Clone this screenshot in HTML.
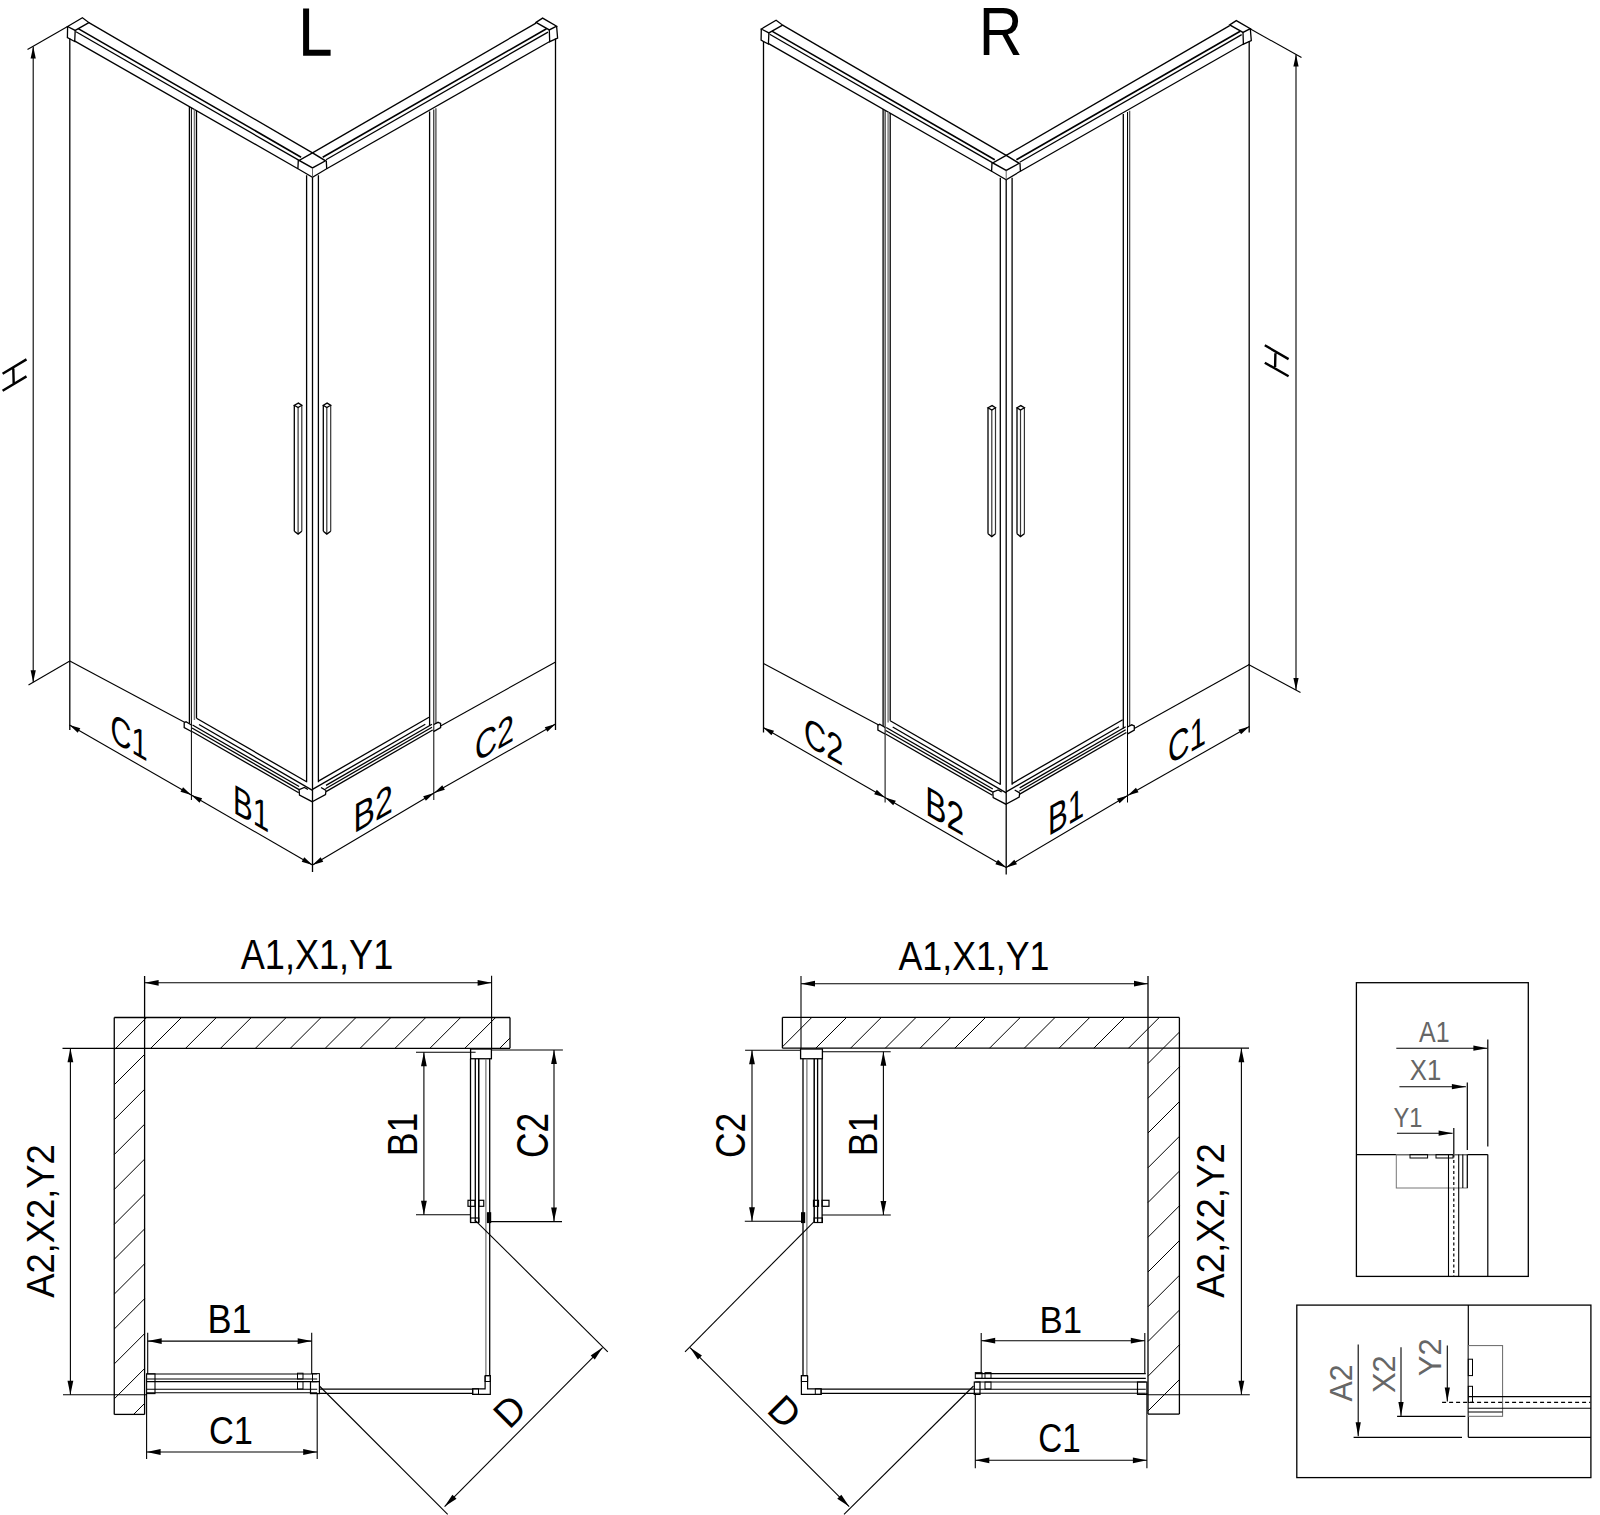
<!DOCTYPE html>
<html><head><meta charset="utf-8"><title>Shower enclosure drawing</title>
<style>html,body{margin:0;padding:0;background:#fff;} svg{display:block;} text{font-family:"Liberation Sans",sans-serif;}</style>
</head><body>
<svg width="1600" height="1515" viewBox="0 0 1600 1515" stroke-linecap="butt">
<rect x="0" y="0" width="1600" height="1515" fill="#fff"/>
<g transform="translate(0,0)">
<polygon points="67.60,26.50 82.40,17.70 88.90,22.60 75.20,30.40" fill="none" stroke="#000" stroke-width="1.3" stroke-linejoin="miter"/>
<polyline points="67.60,26.50 67.40,37.70 74.70,41.50 75.20,30.40" fill="none" stroke="#000" stroke-width="1.3" stroke-linejoin="miter"/>
<line x1="69.80" y1="38.50" x2="69.80" y2="730.00" stroke="#000" stroke-width="1.3"/>
<line x1="88.90" y1="22.60" x2="312.50" y2="152.90" stroke="#000" stroke-width="1.3"/>
<line x1="78.20" y1="28.60" x2="301.10" y2="157.20" stroke="#000" stroke-width="1.6"/>
<line x1="76.00" y1="31.70" x2="299.10" y2="160.40" stroke="#000" stroke-width="1.3"/>
<line x1="74.90" y1="41.10" x2="297.90" y2="168.70" stroke="#000" stroke-width="1.3"/>
<polygon points="312.50,152.90 299.10,160.40 312.50,167.90 325.50,160.80" fill="none" stroke="#000" stroke-width="1.4" stroke-linejoin="miter"/>
<polyline points="298.30,160.40 297.90,168.70 312.50,177.30 326.70,168.70 326.30,160.80" fill="none" stroke="#000" stroke-width="1.3" stroke-linejoin="miter"/>
<line x1="312.50" y1="167.90" x2="312.50" y2="177.30" stroke="#555" stroke-width="0.9"/>
<line x1="312.50" y1="152.90" x2="536.00" y2="23.10" stroke="#000" stroke-width="1.3"/>
<line x1="322.70" y1="157.20" x2="546.50" y2="28.70" stroke="#000" stroke-width="1.6"/>
<line x1="326.00" y1="159.80" x2="548.00" y2="32.10" stroke="#000" stroke-width="1.3"/>
<line x1="326.70" y1="168.70" x2="549.70" y2="41.50" stroke="#000" stroke-width="1.3"/>
<polygon points="536.00,22.40 542.60,18.10 556.60,26.10 549.30,29.90" fill="none" stroke="#000" stroke-width="1.3" stroke-linejoin="miter"/>
<polyline points="549.30,29.90 549.70,41.70 557.60,38.10 556.60,26.10" fill="none" stroke="#000" stroke-width="1.3" stroke-linejoin="miter"/>
<line x1="555.50" y1="38.50" x2="555.50" y2="730.00" stroke="#000" stroke-width="1.3"/>
<line x1="306.60" y1="175.20" x2="306.60" y2="782.20" stroke="#000" stroke-width="1.3"/>
<line x1="312.50" y1="177.30" x2="312.50" y2="872.00" stroke="#000" stroke-width="1.3"/>
<line x1="318.40" y1="175.20" x2="318.40" y2="782.20" stroke="#000" stroke-width="1.3"/>
<line x1="189.40" y1="106.60" x2="189.40" y2="723.50" stroke="#000" stroke-width="1.3"/>
<line x1="191.40" y1="107.80" x2="191.40" y2="800.00" stroke="#000" stroke-width="1.0"/>
<line x1="194.40" y1="109.50" x2="194.40" y2="720.00" stroke="#777" stroke-width="1.4"/>
<line x1="196.50" y1="110.60" x2="196.50" y2="718.30" stroke="#000" stroke-width="1.3"/>
<line x1="429.60" y1="111.50" x2="429.60" y2="725.90" stroke="#000" stroke-width="1.3"/>
<line x1="433.80" y1="109.50" x2="433.80" y2="800.00" stroke="#000" stroke-width="1.0"/>
<line x1="435.90" y1="108.30" x2="435.90" y2="723.30" stroke="#555" stroke-width="1.4"/>
<line x1="294.30" y1="405.30" x2="294.30" y2="531.30" stroke="#000" stroke-width="1.3"/>
<line x1="298.10" y1="407.50" x2="298.10" y2="534.10" stroke="#333" stroke-width="1.2"/>
<line x1="301.80" y1="405.30" x2="301.80" y2="531.30" stroke="#333" stroke-width="1.2"/>
<polygon points="294.30,405.30 298.40,403.10 301.80,405.30 298.10,407.50" fill="none" stroke="#000" stroke-width="1.3" stroke-linejoin="miter"/>
<polyline points="294.30,531.30 298.10,534.10 301.80,531.30" fill="none" stroke="#000" stroke-width="1.3" stroke-linejoin="miter"/>
<line x1="323.30" y1="405.30" x2="323.30" y2="531.30" stroke="#000" stroke-width="1.3"/>
<line x1="326.80" y1="407.50" x2="326.80" y2="534.10" stroke="#333" stroke-width="1.2"/>
<line x1="330.70" y1="405.30" x2="330.70" y2="531.30" stroke="#333" stroke-width="1.2"/>
<polygon points="323.30,405.30 327.10,403.10 330.70,405.30 326.80,407.50" fill="none" stroke="#000" stroke-width="1.3" stroke-linejoin="miter"/>
<polyline points="323.30,531.30 326.80,534.10 330.70,531.30" fill="none" stroke="#000" stroke-width="1.3" stroke-linejoin="miter"/>
<line x1="69.80" y1="661.00" x2="185.00" y2="722.50" stroke="#000" stroke-width="1.1"/>
<line x1="555.60" y1="662.00" x2="440.60" y2="725.90" stroke="#000" stroke-width="1.1"/>
<line x1="196.50" y1="718.30" x2="306.60" y2="781.80" stroke="#000" stroke-width="1.3"/>
<line x1="199.00" y1="724.50" x2="312.50" y2="790.40" stroke="#000" stroke-width="1.3"/>
<line x1="192.50" y1="725.00" x2="299.10" y2="786.50" stroke="#000" stroke-width="1.3"/>
<line x1="192.00" y1="728.00" x2="299.10" y2="789.60" stroke="#000" stroke-width="1.3"/>
<line x1="192.00" y1="731.50" x2="298.70" y2="792.80" stroke="#000" stroke-width="1.3"/>
<polyline points="184.20,722.50 184.20,727.50 191.40,731.50" fill="none" stroke="#000" stroke-width="1.3" stroke-linejoin="miter"/>
<polyline points="184.20,722.50 186.00,721.80 191.40,725.00" fill="none" stroke="#000" stroke-width="1.3" stroke-linejoin="miter"/>
<polyline points="299.10,789.60 299.50,795.20 312.10,801.70 325.50,794.60 326.00,790.40" fill="none" stroke="#000" stroke-width="1.3" stroke-linejoin="miter"/>
<polyline points="299.10,789.60 304.40,787.50 308.00,789.50" fill="none" stroke="#000" stroke-width="1.3" stroke-linejoin="miter"/>
<polyline points="321.00,787.50 326.00,790.40" fill="none" stroke="#000" stroke-width="1.3" stroke-linejoin="miter"/>
<line x1="318.40" y1="781.10" x2="429.00" y2="717.30" stroke="#000" stroke-width="1.3"/>
<line x1="312.50" y1="789.40" x2="425.30" y2="724.30" stroke="#000" stroke-width="1.3"/>
<line x1="326.00" y1="785.40" x2="432.00" y2="724.20" stroke="#000" stroke-width="1.3"/>
<line x1="325.50" y1="788.70" x2="432.00" y2="727.20" stroke="#000" stroke-width="1.3"/>
<line x1="326.00" y1="791.60" x2="432.70" y2="730.00" stroke="#000" stroke-width="1.3"/>
<polyline points="433.50,731.60 440.60,727.50 440.60,723.50 438.00,722.30 433.80,724.50" fill="none" stroke="#000" stroke-width="1.3" stroke-linejoin="miter"/>
</g>
<line x1="67.60" y1="26.50" x2="27.50" y2="49.50" stroke="#000" stroke-width="1.1"/>
<line x1="69.80" y1="661.00" x2="28.50" y2="685.00" stroke="#000" stroke-width="1.1"/>
<line x1="33.20" y1="46.40" x2="33.20" y2="682.30" stroke="#000" stroke-width="1.1"/>
<polygon points="33.20,682.30 30.60,670.30 35.80,670.30" fill="#000"/>
<polygon points="33.20,46.40 35.80,58.40 30.60,58.40" fill="#000"/>
<g stroke="#000" stroke-width="2.4" stroke-linecap="butt" fill="none">
<path d="M2.6,373.7 L26.5,359.4 M2.6,390.7 L26.5,376.4 M13.3,368.6 L13.7,383.5"/>
</g>
<line x1="69.50" y1="725.00" x2="191.30" y2="795.00" stroke="#000" stroke-width="1.1"/>
<polygon points="191.30,795.00 180.47,791.77 183.06,787.26" fill="#000"/>
<polygon points="69.50,725.00 80.33,728.23 77.74,732.74" fill="#000"/>
<line x1="191.30" y1="795.00" x2="312.50" y2="865.00" stroke="#000" stroke-width="1.1"/>
<polygon points="312.50,865.00 301.67,861.75 304.27,857.25" fill="#000"/>
<polygon points="191.30,795.00 202.13,798.25 199.53,802.75" fill="#000"/>
<line x1="312.50" y1="865.00" x2="434.00" y2="793.00" stroke="#000" stroke-width="1.1"/>
<polygon points="434.00,793.00 425.86,800.84 423.21,796.37" fill="#000"/>
<polygon points="312.50,865.00 320.64,857.16 323.29,861.63" fill="#000"/>
<line x1="434.00" y1="793.00" x2="555.60" y2="724.00" stroke="#000" stroke-width="1.1"/>
<polygon points="555.60,724.00 547.32,731.69 544.75,727.17" fill="#000"/>
<polygon points="434.00,793.00 442.28,785.31 444.85,789.83" fill="#000"/>
<g transform="translate(693.7,2.5)">
<polygon points="67.60,26.50 82.40,17.70 88.90,22.60 75.20,30.40" fill="none" stroke="#000" stroke-width="1.3" stroke-linejoin="miter"/>
<polyline points="67.60,26.50 67.40,37.70 74.70,41.50 75.20,30.40" fill="none" stroke="#000" stroke-width="1.3" stroke-linejoin="miter"/>
<line x1="69.80" y1="38.50" x2="69.80" y2="730.00" stroke="#000" stroke-width="1.3"/>
<line x1="88.90" y1="22.60" x2="312.50" y2="152.90" stroke="#000" stroke-width="1.3"/>
<line x1="78.20" y1="28.60" x2="301.10" y2="157.20" stroke="#000" stroke-width="1.6"/>
<line x1="76.00" y1="31.70" x2="299.10" y2="160.40" stroke="#000" stroke-width="1.3"/>
<line x1="74.90" y1="41.10" x2="297.90" y2="168.70" stroke="#000" stroke-width="1.3"/>
<polygon points="312.50,152.90 299.10,160.40 312.50,167.90 325.50,160.80" fill="none" stroke="#000" stroke-width="1.4" stroke-linejoin="miter"/>
<polyline points="298.30,160.40 297.90,168.70 312.50,177.30 326.70,168.70 326.30,160.80" fill="none" stroke="#000" stroke-width="1.3" stroke-linejoin="miter"/>
<line x1="312.50" y1="167.90" x2="312.50" y2="177.30" stroke="#555" stroke-width="0.9"/>
<line x1="312.50" y1="152.90" x2="536.00" y2="23.10" stroke="#000" stroke-width="1.3"/>
<line x1="322.70" y1="157.20" x2="546.50" y2="28.70" stroke="#000" stroke-width="1.6"/>
<line x1="326.00" y1="159.80" x2="548.00" y2="32.10" stroke="#000" stroke-width="1.3"/>
<line x1="326.70" y1="168.70" x2="549.70" y2="41.50" stroke="#000" stroke-width="1.3"/>
<polygon points="536.00,22.40 542.60,18.10 556.60,26.10 549.30,29.90" fill="none" stroke="#000" stroke-width="1.3" stroke-linejoin="miter"/>
<polyline points="549.30,29.90 549.70,41.70 557.60,38.10 556.60,26.10" fill="none" stroke="#000" stroke-width="1.3" stroke-linejoin="miter"/>
<line x1="555.50" y1="38.50" x2="555.50" y2="730.00" stroke="#000" stroke-width="1.3"/>
<line x1="306.60" y1="175.20" x2="306.60" y2="782.20" stroke="#000" stroke-width="1.3"/>
<line x1="312.50" y1="177.30" x2="312.50" y2="872.00" stroke="#000" stroke-width="1.3"/>
<line x1="318.40" y1="175.20" x2="318.40" y2="782.20" stroke="#000" stroke-width="1.3"/>
<line x1="189.40" y1="106.60" x2="189.40" y2="723.50" stroke="#000" stroke-width="1.3"/>
<line x1="191.40" y1="107.80" x2="191.40" y2="800.00" stroke="#000" stroke-width="1.0"/>
<line x1="194.40" y1="109.50" x2="194.40" y2="720.00" stroke="#777" stroke-width="1.4"/>
<line x1="196.50" y1="110.60" x2="196.50" y2="718.30" stroke="#000" stroke-width="1.3"/>
<line x1="429.60" y1="111.50" x2="429.60" y2="725.90" stroke="#000" stroke-width="1.3"/>
<line x1="433.80" y1="109.50" x2="433.80" y2="800.00" stroke="#000" stroke-width="1.0"/>
<line x1="435.90" y1="108.30" x2="435.90" y2="723.30" stroke="#555" stroke-width="1.4"/>
<line x1="294.30" y1="405.30" x2="294.30" y2="531.30" stroke="#000" stroke-width="1.3"/>
<line x1="298.10" y1="407.50" x2="298.10" y2="534.10" stroke="#333" stroke-width="1.2"/>
<line x1="301.80" y1="405.30" x2="301.80" y2="531.30" stroke="#333" stroke-width="1.2"/>
<polygon points="294.30,405.30 298.40,403.10 301.80,405.30 298.10,407.50" fill="none" stroke="#000" stroke-width="1.3" stroke-linejoin="miter"/>
<polyline points="294.30,531.30 298.10,534.10 301.80,531.30" fill="none" stroke="#000" stroke-width="1.3" stroke-linejoin="miter"/>
<line x1="323.30" y1="405.30" x2="323.30" y2="531.30" stroke="#000" stroke-width="1.3"/>
<line x1="326.80" y1="407.50" x2="326.80" y2="534.10" stroke="#333" stroke-width="1.2"/>
<line x1="330.70" y1="405.30" x2="330.70" y2="531.30" stroke="#333" stroke-width="1.2"/>
<polygon points="323.30,405.30 327.10,403.10 330.70,405.30 326.80,407.50" fill="none" stroke="#000" stroke-width="1.3" stroke-linejoin="miter"/>
<polyline points="323.30,531.30 326.80,534.10 330.70,531.30" fill="none" stroke="#000" stroke-width="1.3" stroke-linejoin="miter"/>
<line x1="69.80" y1="661.00" x2="185.00" y2="722.50" stroke="#000" stroke-width="1.1"/>
<line x1="555.60" y1="662.00" x2="440.60" y2="725.90" stroke="#000" stroke-width="1.1"/>
<line x1="196.50" y1="718.30" x2="306.60" y2="781.80" stroke="#000" stroke-width="1.3"/>
<line x1="199.00" y1="724.50" x2="312.50" y2="790.40" stroke="#000" stroke-width="1.3"/>
<line x1="192.50" y1="725.00" x2="299.10" y2="786.50" stroke="#000" stroke-width="1.3"/>
<line x1="192.00" y1="728.00" x2="299.10" y2="789.60" stroke="#000" stroke-width="1.3"/>
<line x1="192.00" y1="731.50" x2="298.70" y2="792.80" stroke="#000" stroke-width="1.3"/>
<polyline points="184.20,722.50 184.20,727.50 191.40,731.50" fill="none" stroke="#000" stroke-width="1.3" stroke-linejoin="miter"/>
<polyline points="184.20,722.50 186.00,721.80 191.40,725.00" fill="none" stroke="#000" stroke-width="1.3" stroke-linejoin="miter"/>
<polyline points="299.10,789.60 299.50,795.20 312.10,801.70 325.50,794.60 326.00,790.40" fill="none" stroke="#000" stroke-width="1.3" stroke-linejoin="miter"/>
<polyline points="299.10,789.60 304.40,787.50 308.00,789.50" fill="none" stroke="#000" stroke-width="1.3" stroke-linejoin="miter"/>
<polyline points="321.00,787.50 326.00,790.40" fill="none" stroke="#000" stroke-width="1.3" stroke-linejoin="miter"/>
<line x1="318.40" y1="781.10" x2="429.00" y2="717.30" stroke="#000" stroke-width="1.3"/>
<line x1="312.50" y1="789.40" x2="425.30" y2="724.30" stroke="#000" stroke-width="1.3"/>
<line x1="326.00" y1="785.40" x2="432.00" y2="724.20" stroke="#000" stroke-width="1.3"/>
<line x1="325.50" y1="788.70" x2="432.00" y2="727.20" stroke="#000" stroke-width="1.3"/>
<line x1="326.00" y1="791.60" x2="432.70" y2="730.00" stroke="#000" stroke-width="1.3"/>
<polyline points="433.50,731.60 440.60,727.50 440.60,723.50 438.00,722.30 433.80,724.50" fill="none" stroke="#000" stroke-width="1.3" stroke-linejoin="miter"/>
</g>
<line x1="1249.60" y1="28.60" x2="1301.50" y2="57.50" stroke="#000" stroke-width="1.1"/>
<line x1="1248.50" y1="664.50" x2="1300.50" y2="692.50" stroke="#000" stroke-width="1.1"/>
<line x1="1296.00" y1="54.40" x2="1296.00" y2="690.10" stroke="#000" stroke-width="1.1"/>
<polygon points="1296.00,690.10 1293.40,678.10 1298.60,678.10" fill="#000"/>
<polygon points="1296.00,54.40 1298.60,66.40 1293.40,66.40" fill="#000"/>
<g stroke="#000" stroke-width="2.4" stroke-linecap="butt" fill="none">
<path d="M1264.8,345.3 L1288.6,359.1 M1264.8,362.8 L1288.6,376.2 M1275.4,353.2 L1275.1,367"/>
</g>
<line x1="763.20" y1="727.50" x2="885.00" y2="797.50" stroke="#000" stroke-width="1.1"/>
<polygon points="885.00,797.50 874.17,794.27 876.76,789.76" fill="#000"/>
<polygon points="763.20,727.50 774.03,730.73 771.44,735.24" fill="#000"/>
<line x1="885.00" y1="797.50" x2="1006.20" y2="867.50" stroke="#000" stroke-width="1.1"/>
<polygon points="1006.20,867.50 995.37,864.25 997.97,859.75" fill="#000"/>
<polygon points="885.00,797.50 895.83,800.75 893.23,805.25" fill="#000"/>
<line x1="1006.20" y1="867.50" x2="1127.70" y2="795.50" stroke="#000" stroke-width="1.1"/>
<polygon points="1127.70,795.50 1119.56,803.34 1116.91,798.87" fill="#000"/>
<polygon points="1006.20,867.50 1014.34,859.66 1016.99,864.13" fill="#000"/>
<line x1="1127.70" y1="795.50" x2="1249.30" y2="726.50" stroke="#000" stroke-width="1.1"/>
<polygon points="1249.30,726.50 1241.02,734.19 1238.45,729.67" fill="#000"/>
<polygon points="1127.70,795.50 1135.98,787.81 1138.55,792.33" fill="#000"/>
<line x1="114.25" y1="1017.50" x2="510.00" y2="1017.50" stroke="#000" stroke-width="1.3"/>
<line x1="114.25" y1="1017.50" x2="114.25" y2="1414.40" stroke="#000" stroke-width="1.3"/>
<line x1="114.25" y1="1414.40" x2="144.60" y2="1414.40" stroke="#000" stroke-width="1.3"/>
<line x1="510.00" y1="1017.50" x2="510.00" y2="1048.30" stroke="#000" stroke-width="1.3"/>
<line x1="62.50" y1="1048.30" x2="510.00" y2="1048.30" stroke="#000" stroke-width="1.3"/>
<line x1="144.60" y1="976.00" x2="144.60" y2="1414.40" stroke="#000" stroke-width="1.3"/>
<line x1="115.80" y1="1048.30" x2="146.60" y2="1017.50" stroke="#000" stroke-width="1.0"/>
<line x1="114.25" y1="1049.85" x2="115.80" y2="1048.30" stroke="#000" stroke-width="1.0"/>
<line x1="150.70" y1="1048.30" x2="181.50" y2="1017.50" stroke="#000" stroke-width="1.0"/>
<line x1="114.25" y1="1084.75" x2="144.60" y2="1054.40" stroke="#000" stroke-width="1.0"/>
<line x1="185.60" y1="1048.30" x2="216.40" y2="1017.50" stroke="#000" stroke-width="1.0"/>
<line x1="114.25" y1="1119.65" x2="144.60" y2="1089.30" stroke="#000" stroke-width="1.0"/>
<line x1="220.50" y1="1048.30" x2="251.30" y2="1017.50" stroke="#000" stroke-width="1.0"/>
<line x1="114.25" y1="1154.55" x2="144.60" y2="1124.20" stroke="#000" stroke-width="1.0"/>
<line x1="255.40" y1="1048.30" x2="286.20" y2="1017.50" stroke="#000" stroke-width="1.0"/>
<line x1="114.25" y1="1189.45" x2="144.60" y2="1159.10" stroke="#000" stroke-width="1.0"/>
<line x1="290.30" y1="1048.30" x2="321.10" y2="1017.50" stroke="#000" stroke-width="1.0"/>
<line x1="114.25" y1="1224.35" x2="144.60" y2="1194.00" stroke="#000" stroke-width="1.0"/>
<line x1="325.20" y1="1048.30" x2="356.00" y2="1017.50" stroke="#000" stroke-width="1.0"/>
<line x1="114.25" y1="1259.25" x2="144.60" y2="1228.90" stroke="#000" stroke-width="1.0"/>
<line x1="360.10" y1="1048.30" x2="390.90" y2="1017.50" stroke="#000" stroke-width="1.0"/>
<line x1="114.25" y1="1294.15" x2="144.60" y2="1263.80" stroke="#000" stroke-width="1.0"/>
<line x1="395.00" y1="1048.30" x2="425.80" y2="1017.50" stroke="#000" stroke-width="1.0"/>
<line x1="114.25" y1="1329.05" x2="144.60" y2="1298.70" stroke="#000" stroke-width="1.0"/>
<line x1="429.90" y1="1048.30" x2="460.70" y2="1017.50" stroke="#000" stroke-width="1.0"/>
<line x1="114.25" y1="1363.95" x2="144.60" y2="1333.60" stroke="#000" stroke-width="1.0"/>
<line x1="464.80" y1="1048.30" x2="495.60" y2="1017.50" stroke="#000" stroke-width="1.0"/>
<line x1="114.25" y1="1398.85" x2="144.60" y2="1368.50" stroke="#000" stroke-width="1.0"/>
<line x1="499.70" y1="1048.30" x2="510.00" y2="1038.00" stroke="#000" stroke-width="1.0"/>
<line x1="133.60" y1="1414.40" x2="144.60" y2="1403.40" stroke="#000" stroke-width="1.0"/>
<line x1="491.60" y1="975.80" x2="491.60" y2="1049.00" stroke="#000" stroke-width="1.1"/>
<line x1="144.60" y1="982.80" x2="491.60" y2="982.80" stroke="#000" stroke-width="1.1"/>
<polygon points="491.60,982.80 477.60,985.70 477.60,979.90" fill="#000"/>
<polygon points="144.60,982.80 158.60,979.90 158.60,985.70" fill="#000"/>
<line x1="70.40" y1="1048.30" x2="70.40" y2="1394.70" stroke="#000" stroke-width="1.1"/>
<polygon points="70.40,1394.70 67.50,1380.70 73.30,1380.70" fill="#000"/>
<polygon points="70.40,1048.30 73.30,1062.30 67.50,1062.30" fill="#000"/>
<line x1="63.00" y1="1394.70" x2="147.00" y2="1394.70" stroke="#000" stroke-width="1.1"/>
<rect x="470.60" y="1049.00" width="20.80" height="9.75" fill="none" stroke="#000" stroke-width="1.3"/>
<line x1="470.50" y1="1058.75" x2="470.50" y2="1222.50" stroke="#000" stroke-width="1.3"/>
<line x1="475.30" y1="1058.75" x2="475.30" y2="1222.50" stroke="#000" stroke-width="1.3"/>
<line x1="478.75" y1="1058.75" x2="478.75" y2="1222.50" stroke="#000" stroke-width="1.5"/>
<line x1="485.90" y1="1058.75" x2="485.90" y2="1376.00" stroke="#666" stroke-width="1.1"/>
<line x1="489.70" y1="1058.75" x2="489.70" y2="1376.00" stroke="#000" stroke-width="1.3"/>
<rect x="468.00" y="1200.30" width="7.00" height="6.00" fill="none" stroke="#000" stroke-width="1.2"/>
<rect x="478.75" y="1200.30" width="5.00" height="6.00" fill="none" stroke="#000" stroke-width="1.2"/>
<rect x="470.60" y="1218.00" width="8.15" height="4.50" fill="none" stroke="#000" stroke-width="1.2"/>
<rect x="487.50" y="1212.80" width="3.10" height="9.70" fill="#000" stroke="#000" stroke-width="1.2"/>
<line x1="416.00" y1="1052.30" x2="475.60" y2="1052.30" stroke="#000" stroke-width="1.1"/>
<line x1="416.00" y1="1214.80" x2="470.30" y2="1214.80" stroke="#000" stroke-width="1.1"/>
<line x1="423.90" y1="1052.30" x2="423.90" y2="1214.80" stroke="#000" stroke-width="1.1"/>
<polygon points="423.90,1214.80 421.00,1200.80 426.80,1200.80" fill="#000"/>
<polygon points="423.90,1052.30 426.80,1066.30 421.00,1066.30" fill="#000"/>
<line x1="491.60" y1="1050.00" x2="562.90" y2="1050.00" stroke="#000" stroke-width="1.1"/>
<line x1="490.60" y1="1221.60" x2="562.00" y2="1221.60" stroke="#000" stroke-width="1.1"/>
<line x1="554.00" y1="1050.00" x2="554.00" y2="1221.60" stroke="#000" stroke-width="1.1"/>
<polygon points="554.00,1221.60 551.10,1207.60 556.90,1207.60" fill="#000"/>
<polygon points="554.00,1050.00 556.90,1064.00 551.10,1064.00" fill="#000"/>
<polyline points="485.10,1375.70 490.30,1375.70 490.30,1394.40 472.70,1394.40 472.70,1388.80 485.10,1388.80 485.10,1375.70" fill="none" stroke="#000" stroke-width="1.2" stroke-linejoin="miter"/>
<rect x="485.10" y="1375.70" width="5.20" height="5.80" fill="none" stroke="#000" stroke-width="1.0"/>
<rect x="472.70" y="1388.80" width="5.80" height="5.60" fill="none" stroke="#000" stroke-width="1.0"/>
<line x1="319.40" y1="1389.20" x2="472.70" y2="1389.20" stroke="#000" stroke-width="1.3"/>
<line x1="319.40" y1="1393.30" x2="472.70" y2="1393.30" stroke="#000" stroke-width="1.3"/>
<line x1="474.70" y1="1219.80" x2="607.80" y2="1351.80" stroke="#000" stroke-width="1.1"/>
<line x1="319.40" y1="1386.00" x2="447.70" y2="1514.30" stroke="#000" stroke-width="1.1"/>
<line x1="444.60" y1="1506.60" x2="602.60" y2="1347.60" stroke="#000" stroke-width="1.1"/>
<polygon points="602.60,1347.60 594.79,1359.57 590.67,1355.49" fill="#000"/>
<polygon points="444.60,1506.60 452.41,1494.63 456.53,1498.71" fill="#000"/>
<line x1="146.60" y1="1374.00" x2="317.20" y2="1374.00" stroke="#000" stroke-width="1.1"/>
<line x1="146.60" y1="1379.00" x2="317.20" y2="1379.00" stroke="#000" stroke-width="1.1"/>
<line x1="146.60" y1="1381.60" x2="317.20" y2="1381.60" stroke="#000" stroke-width="1.1"/>
<line x1="146.60" y1="1389.20" x2="317.20" y2="1389.20" stroke="#000" stroke-width="1.1"/>
<line x1="146.60" y1="1392.80" x2="317.20" y2="1392.80" stroke="#000" stroke-width="1.1"/>
<rect x="146.60" y="1373.80" width="8.40" height="19.80" fill="none" stroke="#000" stroke-width="1.1"/>
<rect x="297.50" y="1373.20" width="5.50" height="5.80" fill="none" stroke="#000" stroke-width="1.0"/>
<rect x="297.50" y="1381.60" width="5.50" height="7.40" fill="none" stroke="#000" stroke-width="1.0"/>
<rect x="310.50" y="1381.60" width="8.90" height="12.00" fill="none" stroke="#000" stroke-width="1.2"/>
<rect x="312.50" y="1373.60" width="6.90" height="8.00" fill="none" stroke="#000" stroke-width="1.0"/>
<line x1="311.70" y1="1332.80" x2="311.70" y2="1374.00" stroke="#000" stroke-width="1.1"/>
<line x1="147.70" y1="1332.80" x2="147.70" y2="1374.00" stroke="#000" stroke-width="1.1"/>
<line x1="147.70" y1="1341.10" x2="311.70" y2="1341.10" stroke="#000" stroke-width="1.1"/>
<polygon points="311.70,1341.10 297.70,1344.00 297.70,1338.20" fill="#000"/>
<polygon points="147.70,1341.10 161.70,1338.20 161.70,1344.00" fill="#000"/>
<line x1="317.20" y1="1393.00" x2="317.20" y2="1459.00" stroke="#000" stroke-width="1.1"/>
<line x1="146.60" y1="1393.00" x2="146.60" y2="1459.00" stroke="#000" stroke-width="1.1"/>
<line x1="146.60" y1="1452.00" x2="317.20" y2="1452.00" stroke="#000" stroke-width="1.1"/>
<polygon points="317.20,1452.00 303.20,1454.90 303.20,1449.10" fill="#000"/>
<polygon points="146.60,1452.00 160.60,1449.10 160.60,1454.90" fill="#000"/>
<line x1="782.40" y1="1017.40" x2="1179.40" y2="1017.40" stroke="#000" stroke-width="1.3"/>
<line x1="1179.40" y1="1017.40" x2="1179.40" y2="1414.10" stroke="#000" stroke-width="1.3"/>
<line x1="1148.00" y1="1414.10" x2="1179.40" y2="1414.10" stroke="#000" stroke-width="1.3"/>
<line x1="782.40" y1="1017.40" x2="782.40" y2="1048.20" stroke="#000" stroke-width="1.3"/>
<line x1="782.40" y1="1048.20" x2="1249.00" y2="1048.20" stroke="#000" stroke-width="1.3"/>
<line x1="1148.00" y1="976.00" x2="1148.00" y2="1414.10" stroke="#000" stroke-width="1.3"/>
<line x1="782.40" y1="1046.85" x2="811.85" y2="1017.40" stroke="#000" stroke-width="1.0"/>
<line x1="815.80" y1="1048.20" x2="846.60" y2="1017.40" stroke="#000" stroke-width="1.0"/>
<line x1="850.55" y1="1048.20" x2="881.35" y2="1017.40" stroke="#000" stroke-width="1.0"/>
<line x1="885.30" y1="1048.20" x2="916.10" y2="1017.40" stroke="#000" stroke-width="1.0"/>
<line x1="920.05" y1="1048.20" x2="950.85" y2="1017.40" stroke="#000" stroke-width="1.0"/>
<line x1="954.80" y1="1048.20" x2="985.60" y2="1017.40" stroke="#000" stroke-width="1.0"/>
<line x1="989.55" y1="1048.20" x2="1020.35" y2="1017.40" stroke="#000" stroke-width="1.0"/>
<line x1="1024.30" y1="1048.20" x2="1055.10" y2="1017.40" stroke="#000" stroke-width="1.0"/>
<line x1="1059.05" y1="1048.20" x2="1089.85" y2="1017.40" stroke="#000" stroke-width="1.0"/>
<line x1="1093.80" y1="1048.20" x2="1124.60" y2="1017.40" stroke="#000" stroke-width="1.0"/>
<line x1="1128.55" y1="1048.20" x2="1159.35" y2="1017.40" stroke="#000" stroke-width="1.0"/>
<line x1="1163.30" y1="1048.20" x2="1179.40" y2="1032.10" stroke="#000" stroke-width="1.0"/>
<line x1="1148.00" y1="1063.50" x2="1163.30" y2="1048.20" stroke="#000" stroke-width="1.0"/>
<line x1="1148.00" y1="1098.25" x2="1179.40" y2="1066.85" stroke="#000" stroke-width="1.0"/>
<line x1="1148.00" y1="1133.00" x2="1179.40" y2="1101.60" stroke="#000" stroke-width="1.0"/>
<line x1="1148.00" y1="1167.75" x2="1179.40" y2="1136.35" stroke="#000" stroke-width="1.0"/>
<line x1="1148.00" y1="1202.50" x2="1179.40" y2="1171.10" stroke="#000" stroke-width="1.0"/>
<line x1="1148.00" y1="1237.25" x2="1179.40" y2="1205.85" stroke="#000" stroke-width="1.0"/>
<line x1="1148.00" y1="1272.00" x2="1179.40" y2="1240.60" stroke="#000" stroke-width="1.0"/>
<line x1="1148.00" y1="1306.75" x2="1179.40" y2="1275.35" stroke="#000" stroke-width="1.0"/>
<line x1="1148.00" y1="1341.50" x2="1179.40" y2="1310.10" stroke="#000" stroke-width="1.0"/>
<line x1="1148.00" y1="1376.25" x2="1179.40" y2="1344.85" stroke="#000" stroke-width="1.0"/>
<line x1="1148.00" y1="1411.00" x2="1179.40" y2="1379.60" stroke="#000" stroke-width="1.0"/>
<line x1="801.00" y1="976.00" x2="801.00" y2="1049.00" stroke="#000" stroke-width="1.1"/>
<line x1="801.00" y1="983.70" x2="1148.00" y2="983.70" stroke="#000" stroke-width="1.1"/>
<polygon points="1148.00,983.70 1134.00,986.60 1134.00,980.80" fill="#000"/>
<polygon points="801.00,983.70 815.00,980.80 815.00,986.60" fill="#000"/>
<line x1="1241.40" y1="1048.20" x2="1241.40" y2="1394.80" stroke="#000" stroke-width="1.1"/>
<polygon points="1241.40,1394.80 1238.50,1380.80 1244.30,1380.80" fill="#000"/>
<polygon points="1241.40,1048.20 1244.30,1062.20 1238.50,1062.20" fill="#000"/>
<line x1="1147.50" y1="1394.80" x2="1249.80" y2="1394.80" stroke="#000" stroke-width="1.1"/>
<rect x="800.60" y="1049.00" width="21.80" height="9.75" fill="none" stroke="#000" stroke-width="1.3"/>
<line x1="803.00" y1="1058.75" x2="803.00" y2="1376.00" stroke="#000" stroke-width="1.3"/>
<line x1="806.90" y1="1058.75" x2="806.90" y2="1376.00" stroke="#666" stroke-width="1.1"/>
<line x1="814.20" y1="1058.75" x2="814.20" y2="1222.50" stroke="#000" stroke-width="1.5"/>
<line x1="817.60" y1="1058.75" x2="817.60" y2="1222.50" stroke="#000" stroke-width="1.3"/>
<line x1="822.10" y1="1058.75" x2="822.10" y2="1222.50" stroke="#000" stroke-width="1.3"/>
<rect x="813.50" y="1200.30" width="5.00" height="6.00" fill="none" stroke="#000" stroke-width="1.2"/>
<rect x="822.10" y="1200.30" width="6.90" height="6.00" fill="none" stroke="#000" stroke-width="1.2"/>
<rect x="814.20" y="1218.00" width="8.20" height="4.50" fill="none" stroke="#000" stroke-width="1.2"/>
<rect x="801.60" y="1212.80" width="3.00" height="9.70" fill="#000" stroke="#000" stroke-width="1.2"/>
<line x1="745.10" y1="1050.30" x2="801.00" y2="1050.30" stroke="#000" stroke-width="1.1"/>
<line x1="744.80" y1="1221.20" x2="803.50" y2="1221.20" stroke="#000" stroke-width="1.1"/>
<line x1="752.00" y1="1050.30" x2="752.00" y2="1221.20" stroke="#000" stroke-width="1.1"/>
<polygon points="752.00,1221.20 749.10,1207.20 754.90,1207.20" fill="#000"/>
<polygon points="752.00,1050.30 754.90,1064.30 749.10,1064.30" fill="#000"/>
<line x1="822.40" y1="1051.70" x2="890.70" y2="1051.70" stroke="#000" stroke-width="1.1"/>
<line x1="822.00" y1="1215.00" x2="890.80" y2="1215.00" stroke="#000" stroke-width="1.1"/>
<line x1="883.40" y1="1051.70" x2="883.40" y2="1215.00" stroke="#000" stroke-width="1.1"/>
<polygon points="883.40,1215.00 880.50,1201.00 886.30,1201.00" fill="#000"/>
<polygon points="883.40,1051.70 886.30,1065.70 880.50,1065.70" fill="#000"/>
<polyline points="807.60,1375.70 801.40,1375.70 801.40,1394.40 821.10,1394.40 821.10,1388.80 807.60,1388.80 807.60,1375.70" fill="none" stroke="#000" stroke-width="1.2" stroke-linejoin="miter"/>
<rect x="801.40" y="1375.70" width="6.20" height="5.80" fill="none" stroke="#000" stroke-width="1.0"/>
<rect x="815.30" y="1388.80" width="5.80" height="5.60" fill="none" stroke="#000" stroke-width="1.0"/>
<line x1="821.10" y1="1389.20" x2="975.30" y2="1389.20" stroke="#000" stroke-width="1.3"/>
<line x1="821.10" y1="1393.30" x2="975.30" y2="1393.30" stroke="#000" stroke-width="1.3"/>
<line x1="813.80" y1="1221.80" x2="685.00" y2="1351.80" stroke="#000" stroke-width="1.1"/>
<line x1="973.50" y1="1386.00" x2="844.00" y2="1514.30" stroke="#000" stroke-width="1.1"/>
<line x1="690.00" y1="1347.60" x2="849.20" y2="1506.60" stroke="#000" stroke-width="1.1"/>
<polygon points="849.20,1506.60 837.24,1498.76 841.34,1494.65" fill="#000"/>
<polygon points="690.00,1347.60 701.96,1355.44 697.86,1359.55" fill="#000"/>
<line x1="975.30" y1="1373.60" x2="1145.80" y2="1373.60" stroke="#000" stroke-width="1.1"/>
<line x1="975.30" y1="1378.40" x2="1145.80" y2="1378.40" stroke="#000" stroke-width="1.1"/>
<line x1="975.30" y1="1382.00" x2="1145.80" y2="1382.00" stroke="#000" stroke-width="1.1"/>
<line x1="975.30" y1="1389.20" x2="1145.80" y2="1389.20" stroke="#000" stroke-width="1.1"/>
<line x1="975.30" y1="1393.30" x2="1145.80" y2="1393.30" stroke="#000" stroke-width="1.1"/>
<rect x="974.30" y="1382.00" width="5.70" height="12.40" fill="none" stroke="#000" stroke-width="1.2"/>
<rect x="975.30" y="1372.60" width="6.70" height="5.80" fill="none" stroke="#000" stroke-width="1.0"/>
<rect x="985.00" y="1372.60" width="6.00" height="5.80" fill="none" stroke="#000" stroke-width="1.0"/>
<rect x="985.00" y="1382.00" width="6.00" height="7.00" fill="none" stroke="#000" stroke-width="1.0"/>
<rect x="1137.50" y="1382.00" width="9.40" height="12.40" fill="none" stroke="#000" stroke-width="1.2"/>
<line x1="981.20" y1="1333.00" x2="981.20" y2="1373.00" stroke="#000" stroke-width="1.1"/>
<line x1="1144.80" y1="1333.00" x2="1144.80" y2="1373.00" stroke="#000" stroke-width="1.1"/>
<line x1="981.20" y1="1340.70" x2="1144.80" y2="1340.70" stroke="#000" stroke-width="1.1"/>
<polygon points="1144.80,1340.70 1130.80,1343.60 1130.80,1337.80" fill="#000"/>
<polygon points="981.20,1340.70 995.20,1337.80 995.20,1343.60" fill="#000"/>
<line x1="975.30" y1="1393.00" x2="975.30" y2="1468.20" stroke="#000" stroke-width="1.1"/>
<line x1="1146.90" y1="1393.00" x2="1146.90" y2="1468.20" stroke="#000" stroke-width="1.1"/>
<line x1="975.30" y1="1460.30" x2="1146.90" y2="1460.30" stroke="#000" stroke-width="1.1"/>
<polygon points="1146.90,1460.30 1132.90,1463.20 1132.90,1457.40" fill="#000"/>
<polygon points="975.30,1460.30 989.30,1457.40 989.30,1463.20" fill="#000"/>
<rect x="1356.40" y="982.70" width="171.90" height="293.70" fill="none" stroke="#000" stroke-width="1.3"/>
<line x1="1356.40" y1="1154.60" x2="1487.80" y2="1154.60" stroke="#000" stroke-width="1.2"/>
<line x1="1487.80" y1="1154.60" x2="1487.80" y2="1276.40" stroke="#000" stroke-width="1.2"/>
<line x1="1487.80" y1="1039.60" x2="1487.80" y2="1146.50" stroke="#000" stroke-width="1.2"/>
<line x1="1396.30" y1="1048.20" x2="1487.40" y2="1048.20" stroke="#000" stroke-width="1.1"/>
<polygon points="1487.40,1048.20 1473.40,1050.80 1473.40,1045.60" fill="#000"/>
<line x1="1399.40" y1="1086.70" x2="1465.90" y2="1086.70" stroke="#000" stroke-width="1.1"/>
<polygon points="1465.90,1086.70 1451.90,1089.30 1451.90,1084.10" fill="#000"/>
<line x1="1467.30" y1="1082.60" x2="1467.30" y2="1150.00" stroke="#000" stroke-width="1.2"/>
<line x1="1396.90" y1="1133.20" x2="1452.60" y2="1133.20" stroke="#000" stroke-width="1.1"/>
<polygon points="1452.60,1133.20 1438.60,1135.80 1438.60,1130.60" fill="#000"/>
<line x1="1453.80" y1="1128.00" x2="1453.80" y2="1154.60" stroke="#000" stroke-width="1.2"/>
<line x1="1453.80" y1="1154.60" x2="1453.80" y2="1276.00" stroke="#000" stroke-width="1.2" stroke-dasharray="3,2.5"/>
<rect x="1396.30" y="1154.60" width="71.00" height="33.40" fill="none" stroke="#777" stroke-width="1.0"/>
<rect x="1410.00" y="1154.60" width="17.60" height="3.40" fill="none" stroke="#000" stroke-width="1.0"/>
<rect x="1436.00" y="1154.60" width="17.00" height="3.40" fill="none" stroke="#000" stroke-width="1.0"/>
<line x1="1448.50" y1="1154.60" x2="1448.50" y2="1276.00" stroke="#000" stroke-width="1.1"/>
<line x1="1458.70" y1="1154.60" x2="1458.70" y2="1276.00" stroke="#000" stroke-width="1.1"/>
<line x1="1462.80" y1="1154.60" x2="1462.80" y2="1188.00" stroke="#000" stroke-width="1.1"/>
<line x1="1467.30" y1="1154.60" x2="1467.30" y2="1188.00" stroke="#000" stroke-width="1.1"/>
<rect x="1296.80" y="1305.10" width="294.10" height="172.50" fill="none" stroke="#000" stroke-width="1.3"/>
<line x1="1468.30" y1="1305.10" x2="1468.30" y2="1437.30" stroke="#000" stroke-width="1.2"/>
<line x1="1468.30" y1="1437.30" x2="1590.90" y2="1437.30" stroke="#000" stroke-width="1.2"/>
<line x1="1353.60" y1="1437.30" x2="1462.00" y2="1437.30" stroke="#000" stroke-width="1.2"/>
<line x1="1358.20" y1="1344.60" x2="1358.20" y2="1436.30" stroke="#000" stroke-width="1.1"/>
<polygon points="1358.20,1436.30 1355.60,1422.30 1360.80,1422.30" fill="#000"/>
<line x1="1397.10" y1="1416.30" x2="1465.40" y2="1416.30" stroke="#000" stroke-width="1.2"/>
<line x1="1401.00" y1="1347.20" x2="1401.00" y2="1416.00" stroke="#000" stroke-width="1.1"/>
<polygon points="1401.00,1416.00 1398.40,1402.00 1403.60,1402.00" fill="#000"/>
<line x1="1447.30" y1="1345.60" x2="1447.30" y2="1401.40" stroke="#000" stroke-width="1.1"/>
<polygon points="1447.30,1401.40 1444.70,1387.40 1449.90,1387.40" fill="#000"/>
<line x1="1442.10" y1="1402.40" x2="1590.30" y2="1402.40" stroke="#000" stroke-width="1.1" stroke-dasharray="4,3"/>
<rect x="1468.30" y="1345.60" width="34.30" height="70.70" fill="none" stroke="#666" stroke-width="1.0"/>
<rect x="1468.30" y="1359.20" width="4.20" height="16.40" fill="none" stroke="#000" stroke-width="1.0"/>
<rect x="1468.30" y="1386.30" width="4.20" height="16.10" fill="none" stroke="#000" stroke-width="1.0"/>
<line x1="1468.30" y1="1396.60" x2="1590.90" y2="1396.60" stroke="#000" stroke-width="1.1"/>
<line x1="1468.30" y1="1408.20" x2="1590.90" y2="1408.20" stroke="#000" stroke-width="1.1"/>
<line x1="1468.30" y1="1412.00" x2="1502.60" y2="1412.00" stroke="#000" stroke-width="1.1"/>
<text x="978.80" y="55.00" font-size="68.00" fill="#000" textLength="43.83" lengthAdjust="spacingAndGlyphs">R</text>
<text x="0" y="0" font-size="40.82" fill="#000" textLength="37.08" lengthAdjust="spacingAndGlyphs" transform="matrix(1,0.577,0,1,110.50,740.50)">C1</text>
<text x="0" y="0" font-size="41.39" fill="#000" textLength="36.11" lengthAdjust="spacingAndGlyphs" transform="matrix(1,0.577,0,1,233.00,812.25)">B1</text>
<text x="0" y="0" font-size="40.88" fill="#000" textLength="39.26" lengthAdjust="spacingAndGlyphs" transform="matrix(1,-0.577,0,1,353.50,833.75)">B2</text>
<text x="0" y="0" font-size="39.57" fill="#000" textLength="39.16" lengthAdjust="spacingAndGlyphs" transform="matrix(1,-0.577,0,1,475.00,762.75)">C2</text>
<text x="0" y="0" font-size="40.52" fill="#000" textLength="39.26" lengthAdjust="spacingAndGlyphs" transform="matrix(1,0.577,0,1,804.00,743.75)">C2</text>
<text x="0" y="0" font-size="41.94" fill="#000" textLength="38.86" lengthAdjust="spacingAndGlyphs" transform="matrix(1,0.577,0,1,925.25,814.00)">B2</text>
<text x="0" y="0" font-size="42.25" fill="#000" textLength="36.11" lengthAdjust="spacingAndGlyphs" transform="matrix(1,-0.577,0,1,1048.00,836.50)">B1</text>
<text x="0" y="0" font-size="41.78" fill="#000" textLength="38.08" lengthAdjust="spacingAndGlyphs" transform="matrix(1,-0.577,0,1,1168.00,765.25)">C1</text>
<text x="240.75" y="968.95" font-size="41.87" fill="#000" textLength="152.51" lengthAdjust="spacingAndGlyphs">A1,X1,Y1</text>
<text x="898.50" y="969.50" font-size="41.28" fill="#000" textLength="150.99" lengthAdjust="spacingAndGlyphs">A1,X1,Y1</text>
<text x="0" y="0" font-size="39.41" fill="#000" textLength="153.50" lengthAdjust="spacingAndGlyphs" transform="translate(54.35,1297.75) rotate(-90)">A2,X2,Y2</text>
<text x="0" y="0" font-size="38.80" fill="#000" textLength="154.51" lengthAdjust="spacingAndGlyphs" transform="translate(1224.00,1297.75) rotate(-90)">A2,X2,Y2</text>
<text x="0" y="0" font-size="42.19" fill="#000" textLength="43.67" lengthAdjust="spacingAndGlyphs" transform="translate(417.25,1156.25) rotate(-90)">B1</text>
<text x="0" y="0" font-size="43.66" fill="#000" textLength="45.11" lengthAdjust="spacingAndGlyphs" transform="translate(548.05,1158.10) rotate(-90)">C2</text>
<text x="0" y="0" font-size="42.19" fill="#000" textLength="45.11" lengthAdjust="spacingAndGlyphs" transform="translate(745.15,1158.10) rotate(-90)">C2</text>
<text x="0" y="0" font-size="41.45" fill="#000" textLength="43.67" lengthAdjust="spacingAndGlyphs" transform="translate(876.50,1156.25) rotate(-90)">B1</text>
<text x="0" y="0" font-size="38.05" fill="#000" transform="translate(509.25,1430.25) rotate(-45)">D</text>
<text x="0" y="0" font-size="38.39" fill="#000" transform="translate(765.50,1411.25) rotate(45)">D</text>
<text x="207.50" y="1333.40" font-size="40.03" fill="#000" textLength="44.15" lengthAdjust="spacingAndGlyphs">B1</text>
<text x="209.00" y="1443.55" font-size="37.88" fill="#000" textLength="44.00" lengthAdjust="spacingAndGlyphs">C1</text>
<text x="1039.55" y="1333.00" font-size="37.14" fill="#000" textLength="42.48" lengthAdjust="spacingAndGlyphs">B1</text>
<text x="1038.25" y="1452.00" font-size="40.00" fill="#000" textLength="42.38" lengthAdjust="spacingAndGlyphs">C1</text>
<text x="1419.05" y="1042.45" font-size="30.32" fill="#666" textLength="30.50" lengthAdjust="spacingAndGlyphs">A1</text>
<text x="1409.75" y="1079.75" font-size="28.77" fill="#666" textLength="31.50" lengthAdjust="spacingAndGlyphs">X1</text>
<text x="1393.50" y="1126.60" font-size="28.04" fill="#666" textLength="28.97" lengthAdjust="spacingAndGlyphs">Y1</text>
<text x="0" y="0" font-size="31.92" fill="#666" textLength="37.13" lengthAdjust="spacingAndGlyphs" transform="translate(1352.15,1401.50) rotate(-90)">A2</text>
<text x="0" y="0" font-size="31.92" fill="#666" textLength="37.67" lengthAdjust="spacingAndGlyphs" transform="translate(1394.75,1393.05) rotate(-90)">X2</text>
<text x="0" y="0" font-size="31.92" fill="#666" textLength="37.78" lengthAdjust="spacingAndGlyphs" transform="translate(1440.75,1376.15) rotate(-90)">Y2</text>
<path d="M303.1,8.6 H309.1 V49.8 H330.6 V55.8 H303.1 Z" fill="#000"/>
</svg>
</body></html>
